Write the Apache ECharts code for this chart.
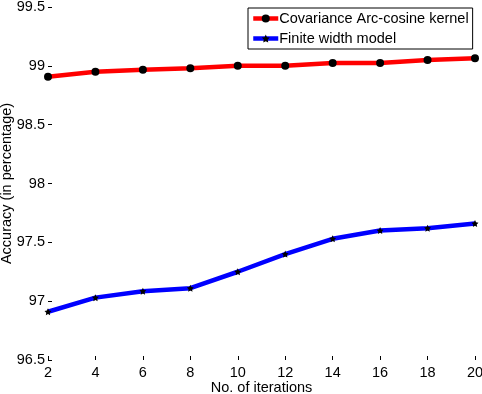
<!DOCTYPE html>
<html><head><meta charset="utf-8">
<script src="https://cdn.jsdelivr.net/npm/echarts@6/dist/echarts.min.js"></script>
<style>html,body{margin:0;padding:0;background:#fff}#c{width:482px;height:394px}</style>
</head><body><div id="c"></div>
<script>
const iterations = [2, 4, 6, 8, 10, 12, 14, 16, 18, 20];
const arcCosine = [98.907, 98.95, 98.967, 98.98, 99.0, 99.0, 99.025, 99.025, 99.05, 99.065];
const finiteWidth = [96.91, 97.03, 97.085, 97.11, 97.25, 97.40, 97.53, 97.60, 97.62, 97.66];
const seriesNames = ['Covariance Arc-cosine kernel', 'Finite width model'];
const xTitle = 'No. of iterations';
const yTitle = 'Accuracy (in percentage)';

const font = 'Liberation Sans, Arial, Helvetica, sans-serif';
const fs = 14.5;
const star = 'path://M0,-10 L2.9,-4 L9.5,-3.1 L4.7,1.5 L5.9,8.1 L0,5 L-5.9,8.1 L-4.7,1.5 L-9.5,-3.1 L-2.9,-4 Z';
const chart = echarts.init(document.getElementById('c'));
chart.setOption({
  animation: false,
  backgroundColor: '#fff',
  textStyle: { fontFamily: font },
  grid: { left: 48, right: 7, top: 7, bottom: 34, containLabel: false, outerBoundsMode: 'none' },
  legend: {
    left: 248, top: 8,
    orient: 'vertical',
    backgroundColor: '#fff',
    borderColor: '#000', borderWidth: 1, borderRadius: 0,
    padding: [3, 4, 3, 3],
    itemGap: 5, itemWidth: 25, itemHeight: 10,
    lineStyle: { width: 4.5 },
    textStyle: { fontFamily: font, fontSize: fs, color: '#000', padding: [0, 0, 0, -4] },
    data: seriesNames
  },
  xAxis: {
    type: 'value', min: 2, max: 20, interval: 2,
    name: xTitle, nameLocation: 'middle', nameGap: 20, nameMoveOverlap: false,
    nameTextStyle: { fontFamily: font, fontSize: fs, color: '#000' },
    axisLine: { show: false },
    axisTick: { show: true, inside: true, length: 4, lineStyle: { color: '#000' } },
    axisLabel: { fontFamily: font, fontSize: fs, color: '#000', margin: 5 },
    splitLine: { show: false }
  },
  yAxis: {
    type: 'value', min: 96.5, max: 99.5, interval: 0.5,
    name: yTitle, nameLocation: 'middle', nameGap: 34, nameMoveOverlap: false,
    nameTextStyle: { fontFamily: font, fontSize: fs, color: '#000' },
    axisLine: { show: false },
    axisTick: { show: true, inside: true, length: 4, lineStyle: { color: '#000' } },
    axisLabel: { fontFamily: font, fontSize: fs, color: '#000', margin: 3,
      formatter: v => String(+v.toFixed(1)) },
    splitLine: { show: false }
  },
  series: [
    {
      name: seriesNames[0], type: 'line',
      data: iterations.map((x, i) => [x, arcCosine[i]]),
      lineStyle: { color: '#ff0000', width: 4.5 },
      itemStyle: { color: '#000' },
      symbol: 'circle', symbolSize: 8, showAllSymbol: true
    },
    {
      name: seriesNames[1], type: 'line',
      data: iterations.map((x, i) => [x, finiteWidth[i]]),
      lineStyle: { color: '#0000ff', width: 4.5 },
      itemStyle: { color: '#000' },
      symbol: star, symbolSize: 7, showAllSymbol: true
    }
  ]
});
</script></body></html>
